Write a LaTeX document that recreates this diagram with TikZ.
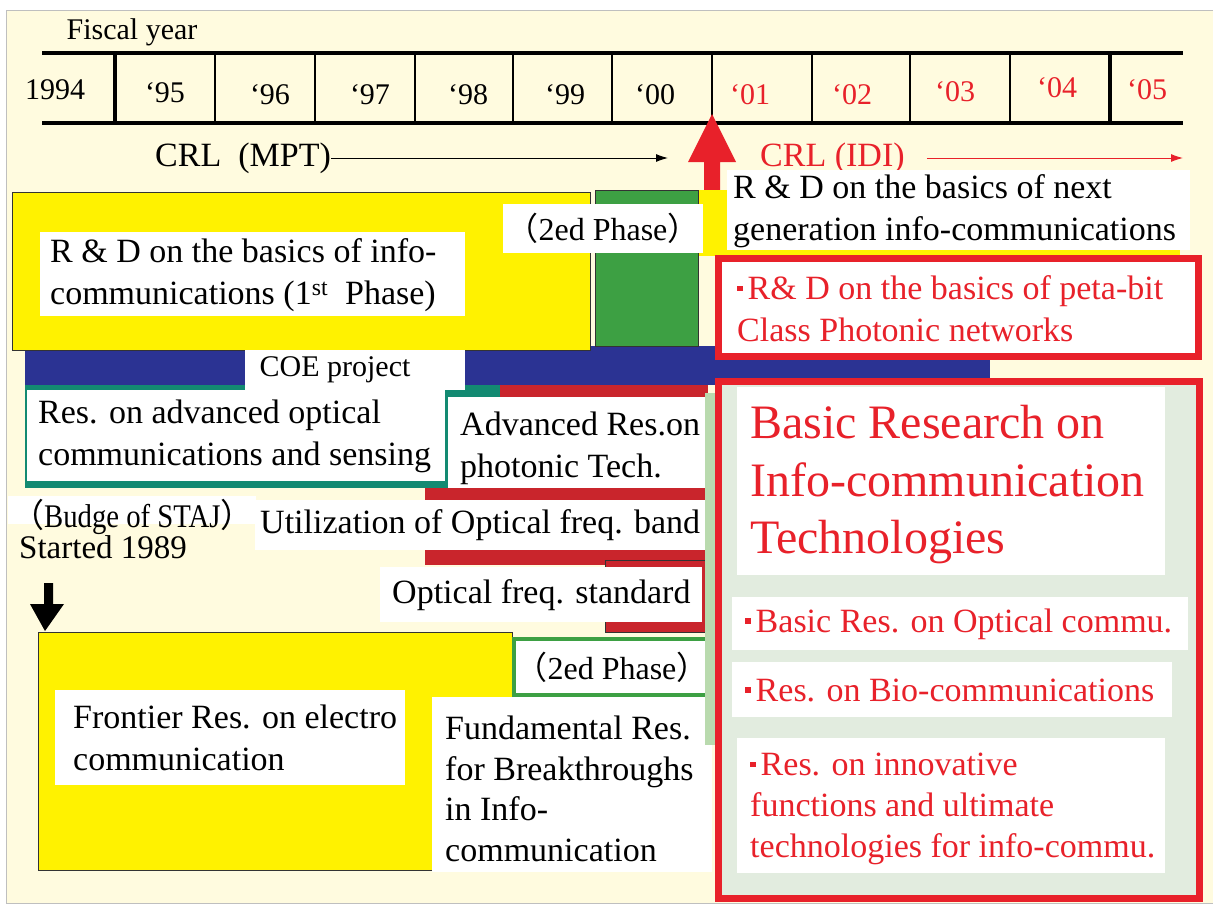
\documentclass[tikz,border=0pt]{standalone}
\usepackage{fontspec}
\setmainfont{Liberation Serif}
\newfontfamily\cjkfont{Noto Sans CJK JP}
\newfontfamily\narrowfont{Liberation Serif}[FakeStretch=0.87]
\usetikzlibrary{arrows.meta}

\definecolor{cream}{HTML}{FFFBDF}
\definecolor{yel}{HTML}{FFF200}
\definecolor{grn}{HTML}{3DA043}
\definecolor{blu}{HTML}{2B3393}
\definecolor{tealc}{HTML}{138A72}
\definecolor{dkred}{HTML}{C9252C}
\definecolor{myred}{HTML}{E8212A}
\definecolor{palegrn}{HTML}{E2ECDF}
\definecolor{lightgrn}{HTML}{B9DAAE}

\newcommand{\lpar}{{\cjkfont （}}
\newcommand{\rpar}{{\cjkfont ）}}
\newcommand{\sqb}{\rule[0.25em]{0.16em}{0.16em}\hspace{0.15em}}

\begin{document}
\begin{tikzpicture}[x=1pt,y=-1pt,
  txt/.style={inner sep=0pt,anchor=west,align=left,font=\fontsize{34}{42}\selectfont},
  rtxt/.style={txt,text=myred},
  yr/.style={inner sep=0pt,font=\fontsize{30}{36}\selectfont},
  frame/.style={draw=black!80,line width=0.8},
  redbox/.style={draw=myred,line width=7}]
\useasboundingbox (0,0) rectangle (1213,905);
% paper
\fill[white] (0,0) rectangle (1213,905);
\fill[cream] (6,10) rectangle (1213,903);
\draw[gray!50] (1213,10) -- (6,10) -- (6,903) -- (1213,903);

% fiscal year scale
\draw[line width=3.5] (42,53) -- (1183,53) (42,123) -- (1183,123);
\draw[line width=4] (115,53) -- (115,123) (1110,53) -- (1110,123);
\foreach \x in {215,315,415,513,612,712,812,910,1010}{
\draw[line width=1.5] (\x,53) -- (\x,123);
}
\node[yr] (fy) at (132,32) {Fiscal year};
\node[yr] (y94) at (55,90) {1994};
\foreach \x/\y/\t in {165/93/95,270/95/96,370/95/97,468/95/98,565/95/99,655/95/00}{
\node[yr] (y\t) at (\x,\y) {‘\t};
}
\foreach \x/\y/\t in {750/95/01,852/95/02,955/92/03,1057/88/04,1147/90/05}{
\node[yr,text=myred] (y\t) at (\x,\y) {‘\t};
}

% organisations
\node[txt] (mpt) at (155,158) {CRL\ \ (MPT)};
\coordinate (mptend) at (668,158);
\draw[-{Latex[length=12pt,width=8pt]},line width=1] (mpt.east) -- (mptend);
\node[rtxt] (idi) at (760,158) {CRL (IDI)};
\coordinate (idiend) at (1183,158);
\draw[-{Latex[length=12pt,width=8pt]},myred,line width=1,shorten <=22pt] (idi.east) -- (idiend);
% change-over arrow
\fill[myred] (704,200) -- (704,162) -- (688,162) -- (712,114) -- (736,162) -- (720,162) -- (720,200) -- cycle;

% background bars
\fill[blu] (25,346) rectangle (990,385);
\fill[dkred] (425,385) rectangle (708,565);
\fill[tealc] (25,385) rectangle (500,488);

% 1st and 2nd phase
\fill[yel] (698,190) rectangle (1180,256);
\filldraw[fill=yel,frame] (12,192) rectangle (590,350);
\filldraw[fill=grn,frame] (595,190) rectangle (698,346);
\fill[white] (503,204) rectangle (703,253);
\node[txt,font=\fontsize{32}{38}\selectfont,anchor=center] (ph2a) at (603,228) {\lpar 2ed Phase\rpar};
\fill[white] (40,232) rectangle (465,316);
\node[txt] (ph1) at (50,275) {R \& D on the basics of info-\\communications (1\textsuperscript{st}\ \ Phase)};
\fill[white] (727,170) rectangle (1190,250);
\node[txt] (nxt) at (733,211) {R \& D on the basics of next\\generation info-communications};
\filldraw[fill=white,redbox] (718,258) rectangle (1198,356);
\node[rtxt] (peta) at (737,309) {\sqb R\& D on the basics of peta-bit\\Class Photonic networks};

% COE and photonics
\fill[white] (245,350) rectangle (465,390);
\node[txt,font=\fontsize{30}{36}\selectfont,anchor=center] (coe) at (335,370) {COE project};
\fill[white] (27,390) rectangle (445,481);
\node[txt] (opt) at (38,436) {Res. on advanced optical\\communications and sensing};
\fill[white] (448,397) rectangle (708,488);
\node[txt] (adv) at (460,448) {Advanced Res.on\\photonic Tech.};
\fill[white] (255,500) rectangle (708,550);
\node[txt] (util) at (260,525) {Utilization of Optical freq. band};
\filldraw[fill=dkred,frame] (605,560) rectangle (708,632);
\fill[white] (380,567) rectangle (702,622);
\node[txt] (std) at (392,595) {Optical freq. standard};

% STAJ budget
\fill[white] (8,496) rectangle (256,524);
\node[txt,font=\fontsize{33}{26}\selectfont] (staj) at (11,529) {\lpar{\narrowfont Budge of STAJ}\rpar\\\hspace{8pt}Started 1989};
\fill (44,583) -- (53,583) -- (53,604) -- (64,604) -- (45,631) -- (30,604) -- (44,604) -- cycle;
\filldraw[fill=yel,frame] (38,632) rectangle (512,870);
\fill[white] (55,690) rectangle (405,785);
\node[txt] (front) at (73,738) {Frontier Res. on electro\\communication};
\filldraw[fill=white,draw=grn,line width=4] (514,639) rectangle (710,695);
\node[txt,font=\fontsize{32}{38}\selectfont,anchor=center] (ph2b) at (612,667) {\lpar 2ed Phase\rpar};
\fill[white] (432,697) rectangle (712,872);
\node[txt,font=\fontsize{34}{40.7}\selectfont] (fund) at (445,789) {Fundamental Res.\\for Breakthroughs\\in Info-\\communication};

% basic research (IDI)
\fill[lightgrn] (705,393) rectangle (716,745);
\filldraw[fill=palegrn,redbox] (718,381) rectangle (1199,898);
\fill[white] (737,387) rectangle (1165,575);
\node[rtxt,font=\fontsize{48}{57.5}\selectfont] (basic) at (750,485) {Basic Research on\\Info-communication\\Technologies};
\fill[white] (732,597) rectangle (1188,650);
\node[rtxt] (opc) at (745,624) {\sqb Basic Res. on Optical commu.};
\fill[white] (732,662) rectangle (1172,717);
\node[rtxt] (bio) at (745,690) {\sqb Res. on Bio-communications};
\fill[white] (737,738) rectangle (1165,873);
\node[rtxt,font=\fontsize{34}{41}\selectfont] (inno) at (750,809) {\sqb Res. on innovative\\functions and ultimate\\technologies for info-commu.};
\end{tikzpicture}
\end{document}
